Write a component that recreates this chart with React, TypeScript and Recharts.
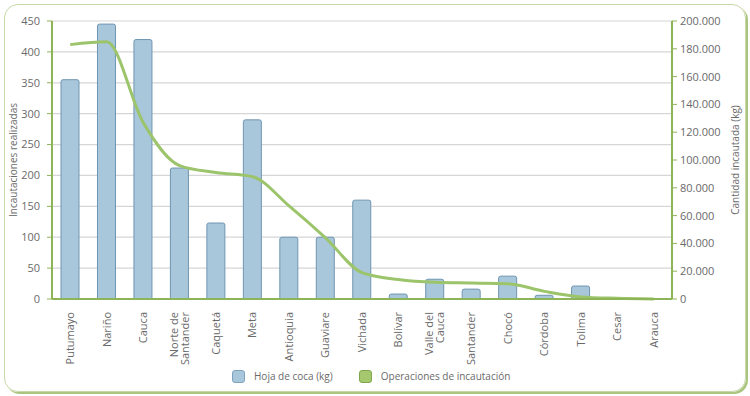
import {
  ComposedChart, Bar, Line, XAxis, YAxis, CartesianGrid, Legend, Label,
} from 'recharts'

const departamentos = [
  'Putumayo', 'Nariño', 'Cauca', 'Norte de Santander', 'Caquetá', 'Meta',
  'Antioquia', 'Guaviare', 'Vichada', 'Bolívar', 'Valle del Cauca', 'Santander',
  'Chocó', 'Córdoba', 'Tolima', 'Cesar', 'Arauca',
]
const hojaCoca = [355, 445, 420, 212, 123, 290, 100, 100, 160, 8, 32, 16, 37, 6, 21, 0, 0]
const operaciones = [
  183000, 185000, 127000, 96000, 91000, 88000, 67000, 44000, 19000,
  14000, 12000, 11500, 11000, 5500, 1500, 500, 0,
]
const leftTicks = [0, 50, 100, 150, 200, 250, 300, 350, 400, 450]
const rightTicks = [0, 20000, 40000, 60000, 80000, 100000, 120000, 140000, 160000, 180000, 200000]
const edgeTicks = departamentos.map((_, i) => i).concat(departamentos.length)

const data = departamentos.map((d, i) => ({ dep: d, hoja: hojaCoca[i], ops: operaciones[i] }))

const AXIS = '#8db456'
const TXT = '#6a6a6a'
const FONT = '"Open Sans", sans-serif'

function DepTick({ x, y, payload }: any) {
  const words = String(payload.value).split(' ')
  const lines = words.length > 2 ? [words.slice(0, 2).join(' '), words.slice(2).join(' ')] : [payload.value]
  return (
    <g transform={`translate(${x},${y + 5})`}>
      <text transform="rotate(-90)" textAnchor="end" fill={TXT} fontSize={11} fontFamily={FONT}>
        {lines.map((l, i) => (
          <tspan key={i} x={0} dy={i === 0 ? (lines.length > 1 ? '-0.15em' : '0.35em') : '1em'}>{l}</tspan>
        ))}
      </text>
    </g>
  )
}

function LegendBox() {
  const item = (fill: string, stroke: string, label: string) => (
    <div style={{ display: 'flex', alignItems: 'center', gap: 9 }}>
      <span style={{ width: 11, height: 11, background: fill, border: `1px solid ${stroke}`, borderRadius: 3 }} />
      <span style={{ fontSize: 10, color: TXT, fontFamily: FONT }}>{label}</span>
    </div>
  )
  return (
    <div style={{ display: 'flex', gap: 26 }}>
      {item('#a9c7db', '#7fa3be', 'Hoja de coca (kg)')}
      {item('#a5c86e', '#7fa64a', 'Operaciones de incautación')}
    </div>
  )
}

export default function App() {
  return (
    <div style={{ position: 'absolute', left: 0, top: 0, width: 750, height: 396, background: '#fff' }}>
      <div
        style={{
          position: 'absolute', left: 4, top: 4, width: 740, height: 386,
          border: '1px solid #c8d8a8', borderRadius: 14, boxShadow: '2px 2px 0 #a9c57f',
        }}
      />
      <div style={{ position: 'absolute', left: 0, top: 0 }}>
        <ComposedChart width={750} height={396} data={data} margin={{ top: 21, right: 0, bottom: 0, left: 0 }}>
          <CartesianGrid yAxisId="left" vertical={false} stroke="#d6d6d6" strokeWidth={1.2} />
          <XAxis
            xAxisId="edges" type="number" domain={[0, departamentos.length]} ticks={edgeTicks}
            allowDataOverflow tick={false} height={0} axisLine={false}
            tickLine={{ stroke: AXIS, strokeWidth: 1.5 }} tickSize={5}
          />
          <XAxis
            dataKey="dep" interval={0} height={97} tick={<DepTick />}
            tickLine={false} axisLine={{ stroke: AXIS, strokeWidth: 2 }}
          />
          <YAxis
            yAxisId="left" width={52} domain={[0, 450]} ticks={leftTicks}
            tick={{ fill: TXT, fontSize: 11, fontFamily: FONT }}
            axisLine={{ stroke: AXIS, strokeWidth: 2 }} tickLine={{ stroke: AXIS }} tickSize={5} tickMargin={7}
          >
            <Label
              value="Incautaciones realizadas" angle={-90} position="insideLeft" offset={13}
              textAnchor="middle" fill={TXT} fontSize={10} fontFamily={FONT}
            />
          </YAxis>
          <YAxis
            yAxisId="right" orientation="right" width={78} domain={[0, 200000]} ticks={rightTicks}
            tickFormatter={(v: number) => v.toLocaleString('de-DE')}
            tick={{ fill: TXT, fontSize: 11, fontFamily: FONT }}
            axisLine={{ stroke: AXIS, strokeWidth: 2 }} tickLine={{ stroke: AXIS }} tickSize={5} tickMargin={3}
          >
            <Label
              value="Cantidad incautada (kg)" angle={-90} position="insideRight" offset={15}
              textAnchor="middle" fill={TXT} fontSize={10} fontFamily={FONT}
            />
          </YAxis>
          <Legend
            layout="horizontal" verticalAlign="middle" align="center"
            wrapperStyle={{ top: 369, left: 232, width: 'auto' }}
            content={<LegendBox />}
          />
          <Bar
            yAxisId="left" dataKey="hoja" name="Hoja de coca (kg)" barSize={18}
            fill="#a9c7db" stroke="#6f95b1" strokeWidth={1} radius={[2, 2, 0, 0]}
            isAnimationActive={false}
          />
          <Line
            yAxisId="right" dataKey="ops" name="Operaciones de incautación" type="monotone"
            stroke="#9cc46b" strokeWidth={3} dot={false} isAnimationActive={false}
          />
        </ComposedChart>
      </div>
    </div>
  )
}
